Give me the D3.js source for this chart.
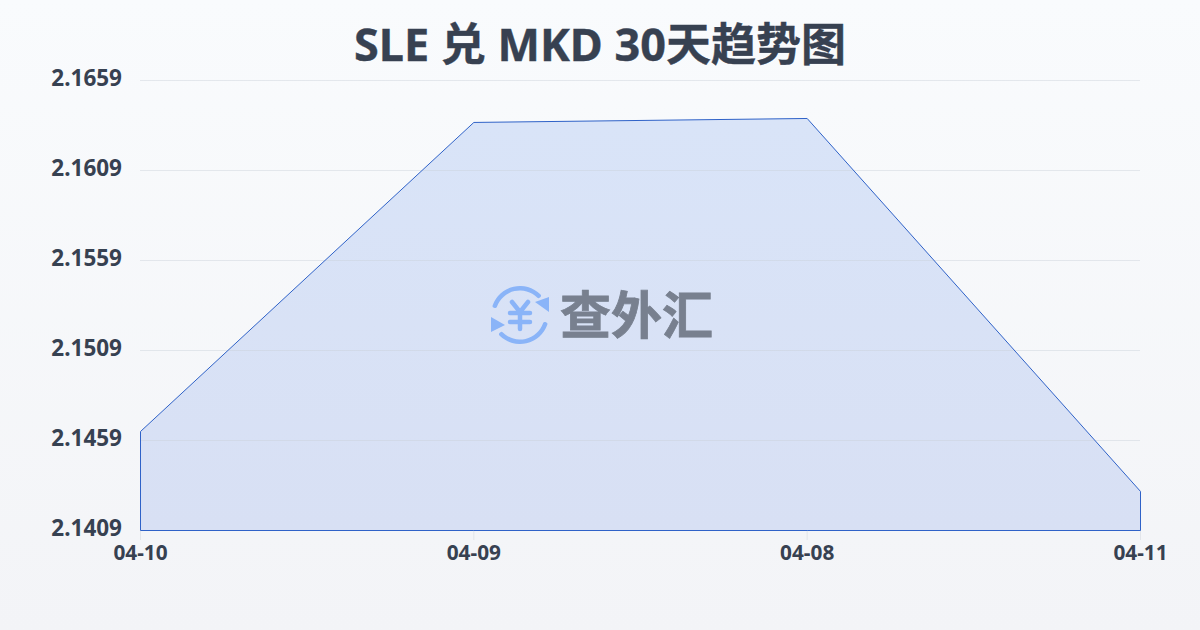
<!DOCTYPE html>
<html>
<head>
<meta charset="utf-8">
<script src="https://cdn.jsdelivr.net/npm/d3@7"></script>
<style>
  html, body { margin: 0; padding: 0; background: #f5f6f9; }
  text { font-family: "Noto Sans", "Noto Sans CJK SC", sans-serif; }
  .tick-label { font-weight: 700; fill: #374151; }
</style>
</head>
<body>
<svg id="chart" width="1200" height="630"></svg>
<script>
// Chart data
const dates = ["04-10", "04-09", "04-08", "04-11"];
const rates = [2.1464, 2.16357, 2.16379, 2.14307];
const yTicks = [2.1409, 2.1459, 2.1509, 2.1559, 2.1609, 2.1659];
const titleText = "SLE 兑 MKD 30天趋势图";
const watermarkText = "查外汇";

const margin = { top: 80, right: 60, bottom: 100, left: 140 };
const width = 1200;
const height = 630;

const svg = d3.select("#chart");

// Gradients
const defs = svg.append("defs");
const bgGrad = defs.append("linearGradient")
  .attr("id", "bg").attr("x1", 0).attr("y1", 0).attr("x2", 0).attr("y2", 1);
bgGrad.append("stop").attr("offset", "0%").attr("stop-color", "#f9fbfd");
bgGrad.append("stop").attr("offset", "100%").attr("stop-color", "#f3f4f7");

const areaGrad = defs.append("linearGradient")
  .attr("id", "areaFill").attr("x1", 0).attr("y1", 0).attr("x2", 0).attr("y2", 1);
areaGrad.append("stop").attr("offset", "0%").attr("stop-color", "#d9e4f8");
areaGrad.append("stop").attr("offset", "100%").attr("stop-color", "#d8e0f4");

svg.append("rect").attr("width", width).attr("height", height).attr("fill", "url(#bg)");

// Scales
const x = d3.scalePoint()
  .domain(dates)
  .range([margin.left, width - margin.right]);

const y = d3.scaleLinear()
  .domain([yTicks[0], yTicks[yTicks.length - 1]])
  .range([height - margin.bottom, margin.top]);

// Area under the line
const area = d3.area()
  .x((d, i) => x(dates[i]))
  .y0(y(yTicks[0]))
  .y1((d) => y(d));

svg.append("path")
  .datum(rates)
  .attr("d", area)
  .attr("transform", "translate(0.5,0.5)")
  .attr("fill", "url(#areaFill)");

// Gridlines sit on top of the fill
const yAxis = svg.append("g")
  .attr("transform", `translate(${margin.left},0)`)
  .call(d3.axisLeft(y).tickValues(yTicks).tickSize(0).tickPadding(18).tickFormat(d3.format(".4f")));
yAxis.select(".domain").remove();
yAxis.selectAll("text")
  .attr("class", "tick-label")
  .attr("dy", "0.25em")
  .style("font-size", "22.5px");
yAxis.selectAll(".tick line")
  .attr("x2", width - margin.left - margin.right)
  .attr("stroke", "#c9d0da")
  .attr("stroke-opacity", 0.45);

const xAxis = svg.append("g")
  .attr("transform", `translate(0,${height - margin.bottom})`)
  .call(d3.axisBottom(x).tickSize(10).tickPadding(5));
xAxis.select(".domain").remove();
xAxis.selectAll(".tick line").attr("stroke", "#e2e5ea");
xAxis.selectAll("text")
  .attr("class", "tick-label")
  .style("font-size", "20.8px");

// Outline of the filled area
svg.append("path")
  .datum(rates)
  .attr("d", area)
  .attr("transform", "translate(0.5,0.5)")
  .attr("fill", "none")
  .attr("stroke", "#2f62c8")
  .attr("stroke-width", 1);

// Title
svg.append("text")
  .attr("x", width / 2)
  .attr("y", 61)
  .attr("text-anchor", "middle")
  .attr("font-size", 45)
  .attr("font-weight", 700)
  .attr("fill", "#374151")
  .attr("stroke", "#374151")
  .attr("stroke-width", 0.4)
  .text(titleText);

// Watermark logo
const logoBlue = "#8ab4f8";
const logo = svg.append("g").attr("transform", "translate(520,315)");
const ring = d3.arc().innerRadius(24.5).outerRadius(29).cornerRadius(2);
[[-1.3, 0.85], [Math.PI - 1.3, Math.PI + 0.85]].forEach(([a0, a1]) => {
  logo.append("path")
    .attr("d", ring({ startAngle: a0, endAngle: a1 }))
    .attr("fill", logoBlue);
});
logo.append("path").attr("d", "M15,-13 L29,-18 L29,-3 Z").attr("fill", logoBlue);
logo.append("path").attr("d", "M-15,10 L-29,2 L-29,17 Z").attr("fill", logoBlue);
logo.append("path")
  .attr("d", "M-8,-13 L0,-3 L8,-13 M-10,-2 H10 M-10,7 H10 M0,-3 V14")
  .attr("fill", "none")
  .attr("stroke", logoBlue)
  .attr("stroke-width", 4.5)
  .attr("stroke-linecap", "round")
  .attr("stroke-linejoin", "round");

svg.append("text")
  .attr("x", 560)
  .attr("y", 334)
  .attr("font-size", 51)
  .attr("font-weight", 700)
  .attr("fill", "#78808f")
  .attr("stroke", "#78808f")
  .attr("stroke-width", 0.8)
  .text(watermarkText);
</script>
</body>
</html>
